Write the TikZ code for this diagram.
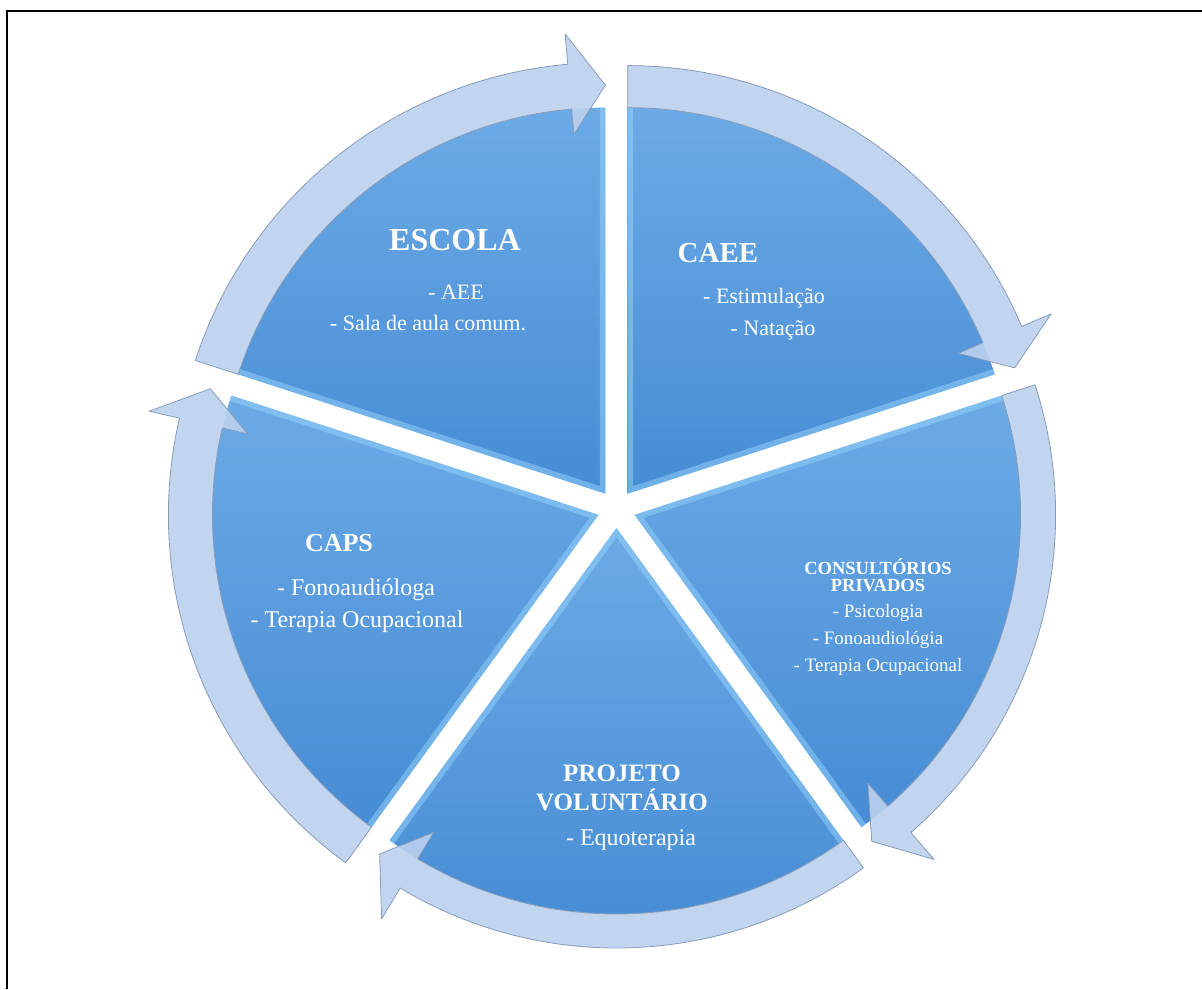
\documentclass[tikz,border=0pt]{standalone}
\usepackage{fontspec}
\setmainfont{Liberation Serif}
\usetikzlibrary{calc}

\definecolor{segtop}{RGB}{108,170,230}
\definecolor{segbot}{RGB}{70,140,212}
\definecolor{bevellight}{RGB}{150,212,252}
\definecolor{bandfill}{RGB}{188,209,238}
\definecolor{bandline}{RGB}{135,155,185}

% one slice of the cycle; #1 = clockwise boundary angle, #2 = name
\newcommand{\cycleslice}[2]{%
  \begin{scope}[shift={($(C)+({#1+36}:19)$)}]
    \coordinate (#2) at (0,0);
    \path[slice] (0,0) -- ({#1+72}:386)
      arc[start angle={#1+72}, end angle={#1}, radius=386] -- cycle;
    \begin{scope}
      \clip (0,0) -- ({#1+72}:386)
        arc[start angle={#1+72}, end angle={#1}, radius=386] -- cycle;
      \draw[bevel] ({#1+72}:400) -- (0,0) -- (#1:400);
    \end{scope}
  \end{scope}}

% curved arrow running clockwise along the rim of a slice
% #1 = clockwise boundary angle, #2 = outer radius of the band
\newcommand{\cyclearrow}[2]{%
  \begin{scope}[shift={($(C)+({#1+36}:19)$)}]
    \pgfmathsetmacro{\bandmid}{(386+#2)/2}
    \path[band] ({#1+72}:386) -- ({#1+72}:#2)
      arc[start angle={#1+72}, end angle={#1+5}, radius=#2]
      -- ({#1+5}:{\bandmid+53}) -- (#1:\bandmid) -- ({#1+5}:{\bandmid-48}) -- ({#1+5}:386)
      arc[start angle={#1+5}, end angle={#1+72}, radius=386] -- cycle;
  \end{scope}}

\begin{document}
\begin{tikzpicture}[x=1pt,y=1pt,
  slice/.style={top color=segtop, bottom color=segbot, draw=none},
  bevel/.style={draw=bevellight, line width=11pt, draw opacity=0.5, line join=miter},
  band/.style={fill=bandfill, fill opacity=0.9, draw=bandline, line width=0.8pt, line join=round},
  frame/.style={draw=black, line width=2.2pt},
  lbl/.style={text=white, inner sep=0pt, anchor=center}]

\useasboundingbox (0,0) rectangle (1202,989);
\fill[white] (0,0) rectangle (1202,989);

% frame lines
\coordinate (frameTL) at (7,978);
\coordinate (frameTR) at (1202,978);
\coordinate (frameBL) at (7,0);
\draw[frame] (frameTR) -- (frameTL) -- (frameBL);

\coordinate (C) at (616.5,480);

% slices
\cycleslice{90}{escola}
\cycleslice{18}{caee}
\cycleslice{-54}{consult}
\cycleslice{-126}{projeto}
\cycleslice{162}{caps}

% arrows
\cyclearrow{90}{431}
\cyclearrow{18}{428}
\cyclearrow{-54}{421}
\cyclearrow{-126}{420}
\cyclearrow{162}{430}

% texts
\node[lbl, font=\fontsize{32}{36}\selectfont\bfseries] (escolaT) at (455,749) {ESCOLA};
\node[lbl, font=\fontsize{22}{26}\selectfont] (escolaA) at (456,697) {- AEE};
\node[lbl, font=\fontsize{22}{26}\selectfont] (escolaB) at (428,666) {- Sala de aula comum.};

\node[lbl, font=\fontsize{29}{34}\selectfont\bfseries] (caeeT) at (718,736) {CAEE};
\node[lbl, font=\fontsize{22}{26}\selectfont] (caeeA) at (764,691) {- Estimulação};
\node[lbl, font=\fontsize{22}{26}\selectfont] (caeeB) at (773,659) {- Natação};

\node[lbl, font=\fontsize{18.5}{22}\selectfont\bfseries] (consT) at (878,422) {CONSULTÓRIOS};
\node[lbl, font=\fontsize{18.5}{22}\selectfont\bfseries] (consU) at (878,403) {PRIVADOS};
\node[lbl, font=\fontsize{19}{22}\selectfont] (consA) at (878,376) {- Psicologia};
\node[lbl, font=\fontsize{19}{22}\selectfont] (consB) at (878,349) {- Fonoaudiológia};
\node[lbl, font=\fontsize{19}{22}\selectfont] (consC) at (878,322) {- Terapia Ocupacional};

\node[lbl, font=\fontsize{26}{30}\selectfont\bfseries] (capsT) at (339,446) {CAPS};
\node[lbl, font=\fontsize{24}{28}\selectfont] (capsA) at (356,399) {- Fonoaudióloga};
\node[lbl, font=\fontsize{24}{28}\selectfont] (capsB) at (357,367) {- Terapia Ocupacional};

\node[lbl, font=\fontsize{25}{30}\selectfont\bfseries] (projT) at (622,216) {PROJETO};
\node[lbl, font=\fontsize{25}{30}\selectfont\bfseries] (projU) at (622,189) {VOLUNTÁRIO};
\node[lbl, font=\fontsize{24}{28}\selectfont] (projA) at (631,149) {- Equoterapia};
\end{tikzpicture}
\end{document}
